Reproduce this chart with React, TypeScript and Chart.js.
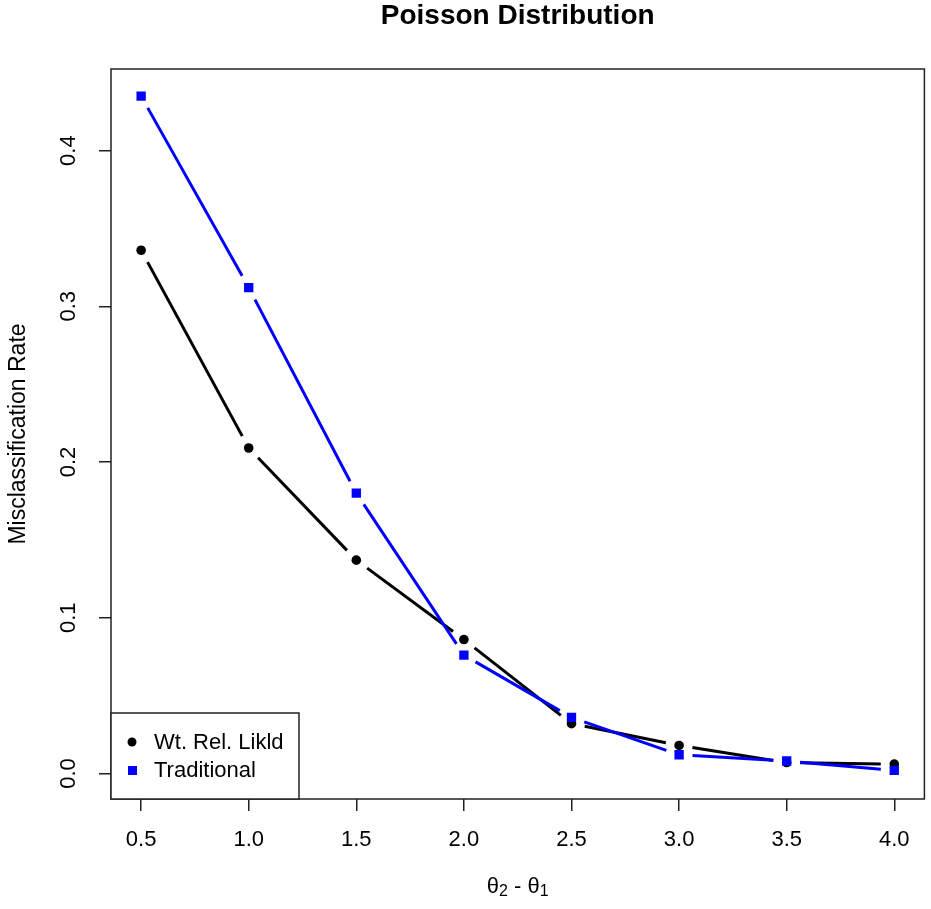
import React, { useEffect, useRef } from "react";
import { Chart, registerables } from "chart.js";

Chart.register(...registerables);

const xValues = [0.5, 1.0, 1.5, 2.0, 2.5, 3.0, 3.5, 4.0];
const wtRelLikld = [0.336, 0.209, 0.137, 0.086, 0.032, 0.018, 0.007, 0.006];
const traditional = [0.435, 0.312, 0.180, 0.076, 0.036, 0.012, 0.008, 0.002];
const xTicks = [0.5, 1.0, 1.5, 2.0, 2.5, 3.0, 3.5, 4.0];
const yTicks = [0.0, 0.1, 0.2, 0.3, 0.4];
const seriesNames = ["Wt. Rel. Likld", "Traditional"];
const titleText = "Poisson Distribution";
const yTitle = "Misclassification Rate";

const FONT = '"Liberation Sans", Arial, sans-serif';

const rPlugin = {
  id: "rstyle",
  beforeDatasetDraw(chart: any, args: any) {
    const meta = chart.getDatasetMeta(args.index);
    const ds = chart.data.datasets[args.index];
    const ctx = chart.ctx;
    const gap = 13.5;
    ctx.save();
    ctx.strokeStyle = ds.lineColor;
    ctx.lineWidth = 3;
    ctx.lineCap = "butt";
    for (let i = 0; i < meta.data.length - 1; i++) {
      const a = meta.data[i];
      const b = meta.data[i + 1];
      const dx = b.x - a.x;
      const dy = b.y - a.y;
      const len = Math.sqrt(dx * dx + dy * dy);
      if (len <= 2 * gap) continue;
      const ux = dx / len;
      const uy = dy / len;
      ctx.beginPath();
      ctx.moveTo(a.x + ux * gap, a.y + uy * gap);
      ctx.lineTo(b.x - ux * gap, b.y - uy * gap);
      ctx.stroke();
    }
    ctx.restore();
  },
  afterDraw(chart: any) {
    const ctx = chart.ctx;
    const area = chart.chartArea;
    const xs = chart.scales.x;
    const ys = chart.scales.y;
    ctx.save();
    // box
    ctx.strokeStyle = "#222";
    ctx.lineWidth = 1.5;
    ctx.strokeRect(area.left, area.top, area.right - area.left, area.bottom - area.top);

    ctx.fillStyle = "#000";
    ctx.font = "22px " + FONT;
    ctx.textAlign = "center";
    ctx.textBaseline = "middle";
    xTicks.forEach((v) => {
      ctx.fillText(v.toFixed(1), xs.getPixelForValue(v), 840);
    });
    yTicks.forEach((v) => {
      ctx.save();
      ctx.translate(69, ys.getPixelForValue(v));
      ctx.rotate(-Math.PI / 2);
      ctx.fillText(v.toFixed(1), 0, 0);
      ctx.restore();
    });
    // y title
    ctx.save();
    ctx.font = "23px " + FONT;
    ctx.translate(19, (area.top + area.bottom) / 2);
    ctx.rotate(-Math.PI / 2);
    ctx.fillText(yTitle, 0, 0);
    ctx.restore();
    // main title
    ctx.font = "bold 28px " + FONT;
    ctx.fillText(titleText, (area.left + area.right) / 2, 16);

    // x title: theta2 - theta1
    const cx = (area.left + area.right) / 2;
    const cy = 887;
    const parts = [
      { t: "\u03B8", s: 22, dy: 0 },
      { t: "2", s: 16, dy: 5 },
      { t: " - ", s: 22, dy: 0 },
      { t: "\u03B8", s: 22, dy: 0 },
      { t: "1", s: 16, dy: 5 },
    ];
    let total = 0;
    parts.forEach((p) => {
      ctx.font = p.s + "px " + FONT;
      total += ctx.measureText(p.t).width;
    });
    let px = cx - total / 2;
    ctx.textAlign = "left";
    parts.forEach((p) => {
      ctx.font = p.s + "px " + FONT;
      ctx.fillText(p.t, px, cy + p.dy);
      px += ctx.measureText(p.t).width;
    });

    // legend
    const lx = area.left;
    const ly = 713;
    const lw = 188;
    const lh = area.bottom - ly;
    ctx.fillStyle = "#fff";
    ctx.fillRect(lx, ly, lw, lh);
    ctx.strokeStyle = "#222";
    ctx.lineWidth = 1.5;
    ctx.strokeRect(lx, ly, lw, lh);
    ctx.fillStyle = "#000";
    ctx.beginPath();
    ctx.arc(lx + 21, 742, 4.5, 0, Math.PI * 2);
    ctx.fill();
    ctx.fillStyle = "#0000ff";
    ctx.fillRect(lx + 17, 766, 9, 9);
    ctx.fillStyle = "#000";
    ctx.font = "22px " + FONT;
    ctx.textAlign = "left";
    ctx.fillText(seriesNames[0], lx + 43, 743);
    ctx.fillText(seriesNames[1], lx + 43, 771);
    ctx.restore();
  },
};

export default function App() {
  const ref = useRef<HTMLCanvasElement | null>(null);
  useEffect(() => {
    if (!ref.current) return;
    const chart = new Chart(ref.current, {
      type: "scatter",
      data: {
        datasets: [
          {
            label: seriesNames[0],
            data: xValues.map((x, i) => ({ x, y: wtRelLikld[i] })),
            showLine: false,
            pointStyle: "circle",
            pointRadius: 4.8,
            pointBorderWidth: 0,
            backgroundColor: "#000",
            borderColor: "#000",
            order: 1,
            lineColor: "#000",
          } as any,
          {
            label: seriesNames[1],
            data: xValues.map((x, i) => ({ x, y: traditional[i] })),
            showLine: false,
            pointStyle: "rect",
            pointRadius: 6.6,
            pointBorderWidth: 0,
            backgroundColor: "#0000ff",
            borderColor: "#0000ff",
            order: 0,
            lineColor: "#0000ff",
          } as any,
        ],
      },
      options: {
        animation: false,
        responsive: false,
        devicePixelRatio: 1,
        events: [],
        layout: { padding: { top: 69, right: 5, left: 0, bottom: 0 } },
        plugins: { legend: { display: false }, tooltip: { enabled: false }, title: { display: false } },
        scales: {
          x: {
            type: "linear",
            min: 0.36,
            max: 4.14,
            afterFit: (s: any) => {
              s.height = 110;
            },
            ticks: { stepSize: 0.5, includeBounds: false, display: false },
            grid: { drawOnChartArea: false, drawTicks: true, tickLength: 12, color: "#222", lineWidth: 1.5 },
            border: { display: false },
          },
          y: {
            type: "linear",
            min: -0.0164,
            max: 0.4524,
            afterFit: (s: any) => {
              s.width = 111;
            },
            ticks: { stepSize: 0.1, includeBounds: false, display: false },
            grid: { drawOnChartArea: false, drawTicks: true, tickLength: 12, color: "#222", lineWidth: 1.5 },
            border: { display: false },
          },
        },
      },
      plugins: [rPlugin],
    });
    return () => chart.destroy();
  }, []);
  return (
    <div style={{ position: "absolute", left: 0, top: 0, width: 931, height: 909, background: "#fff" }}>
      <canvas ref={ref} width={931} height={909} />
    </div>
  );
}
